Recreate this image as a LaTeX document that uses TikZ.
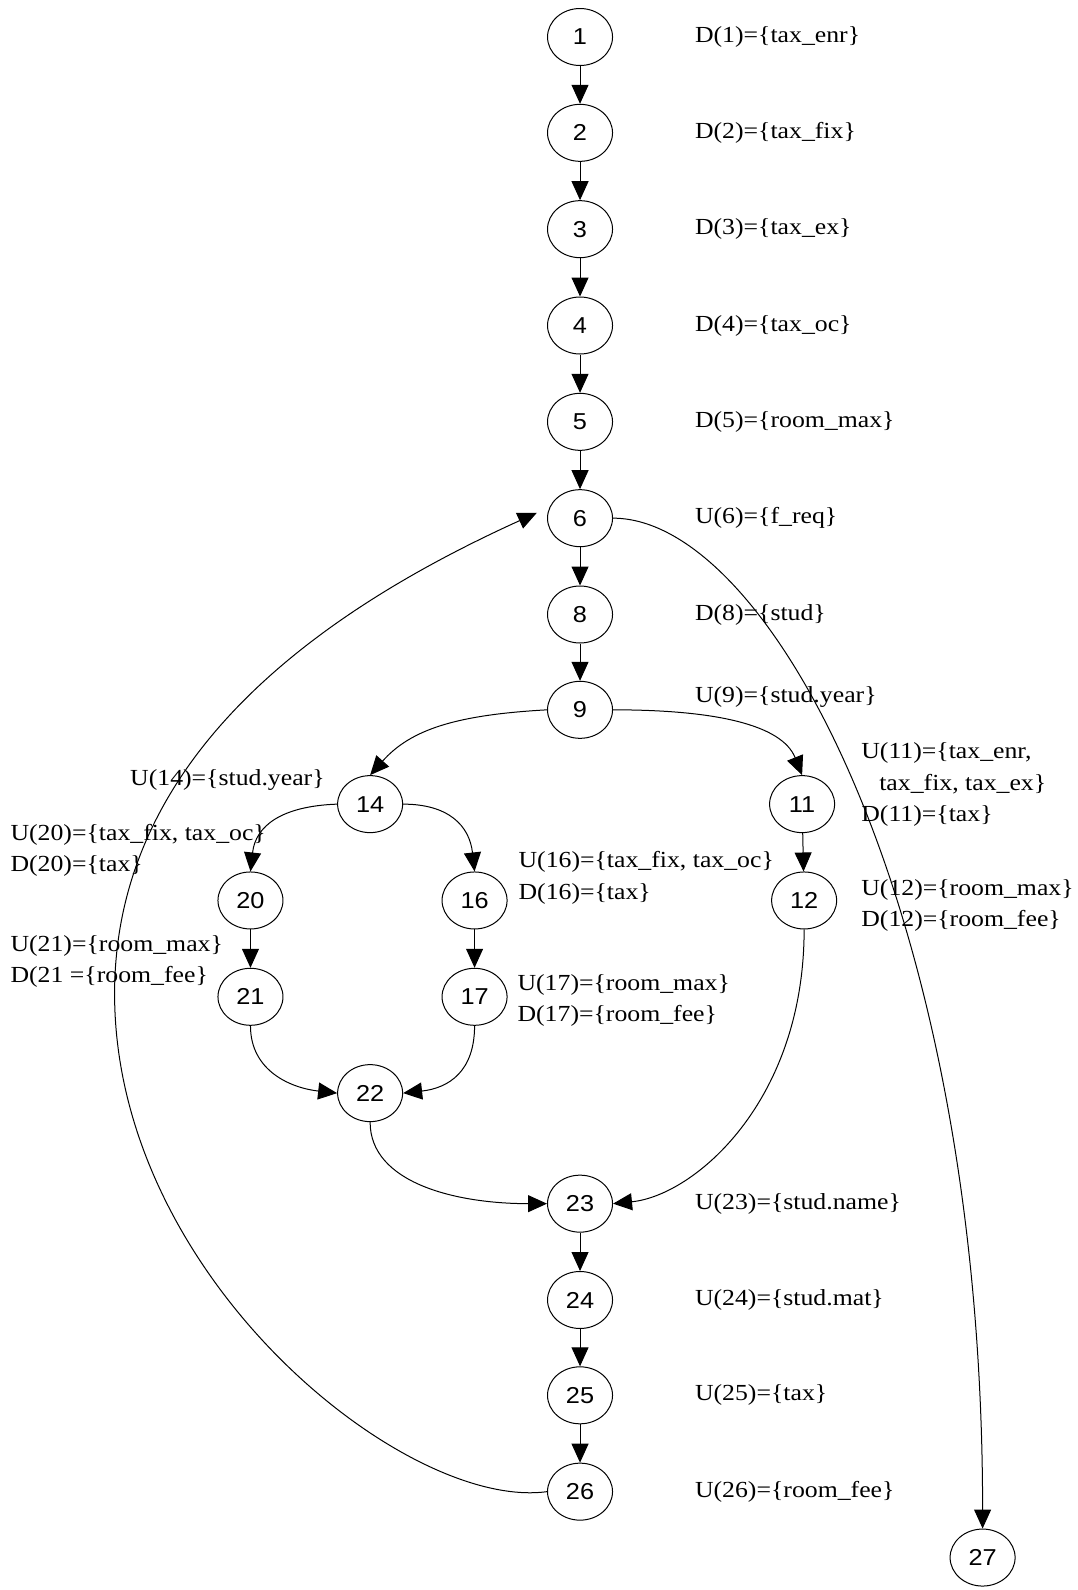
\documentclass[tikz,border=0pt]{standalone}
\usepackage{fontspec}
\setmainfont[FakeStretch=1.12]{Liberation Serif}
\newfontfamily\numfont[FakeStretch=1.1]{Liberation Sans}
\usetikzlibrary{arrows.meta,shapes.geometric}
\begin{document}
\begin{tikzpicture}[x=0.507pt,y=-0.507pt,
  nd/.style={ellipse,draw,line width=0.5pt,minimum width=32.5pt,minimum height=28.5pt,inner sep=0pt,font=\numfont\fontsize{11.5}{13}\selectfont},
  lbl/.style={anchor=west,inner sep=0pt,align=left,font=\fontsize{11.5}{15.7}\selectfont},
  edge/.style={line width=0.5pt,-{Triangle[length=9.5pt,width=8.5pt]}}]
\useasboundingbox (0,0) rectangle (1063,1568);
% nodes
\node[nd] (n1) at (572,36.5) {1};
\node[nd] (n2) at (572,131) {2};
\node[nd] (n3) at (572,226) {3};
\node[nd] (n4) at (572,321) {4};
\node[nd] (n5) at (572,416) {5};
\node[nd] (n6) at (572,511) {6};
\node[nd] (n8) at (572,606) {8};
\node[nd] (n9) at (572,700) {9};
\node[nd] (n14) at (365,793) {14};
\node[nd] (n11) at (791,793) {11};
\node[nd] (n20) at (247,888) {20};
\node[nd] (n16) at (468,888) {16};
\node[nd] (n12) at (793,888) {12};
\node[nd] (n21) at (247,983) {21};
\node[nd] (n17) at (468,983) {17};
\node[nd] (n22) at (365,1078) {22};
\node[nd] (n23) at (572,1187) {23};
\node[nd] (n24) at (572,1282) {24};
\node[nd] (n25) at (572,1376) {25};
\node[nd] (n26) at (572,1471) {26};
\node[nd] (n27) at (969,1536) {27};
\coordinate (loopL) at (113,980);
% labels
\node[lbl] (l1) at (685,36.5) {D(1)=\{tax\_enr\}};
\node[lbl] (l2) at (685,131) {D(2)=\{tax\_fix\}};
\node[lbl] (l3) at (685,226) {D(3)=\{tax\_ex\}};
\node[lbl] (l4) at (685,321) {D(4)=\{tax\_oc\}};
\node[lbl] (l5) at (685,416) {D(5)=\{room\_max\}};
\node[lbl] (l6) at (685,511) {U(6)=\{f\_req\}};
\node[lbl] (l8) at (685,606) {D(8)=\{stud\}};
\node[lbl] (l9) at (685,687) {U(9)=\{stud.year\}};
\node[lbl] (l14) at (128,769) {U(14)=\{stud.year\}};
\node[lbl] (l11) at (849,774) {U(11)=\{tax\_enr,\\\hspace*{9pt}tax\_fix, tax\_ex\}\\D(11)=\{tax\}};
\node[lbl] (l20) at (10,838.5) {U(20)=\{tax\_fix, tax\_oc\}\\D(20)=\{tax\}};
\node[lbl] (l16) at (511,865.5) {U(16)=\{tax\_fix, tax\_oc\}\\D(16)=\{tax\}};
\node[lbl] (l12) at (849,893) {U(12)=\{room\_max\}\\D(12)=\{room\_fee\}};
\node[lbl] (l21) at (10,948) {U(21)=\{room\_max\}\\D(21 =\{room\_fee\}};
\node[lbl] (l17) at (510,986.5) {U(17)=\{room\_max\}\\D(17)=\{room\_fee\}};
\node[lbl] (l23) at (685,1187) {U(23)=\{stud.name\}};
\node[lbl] (l24) at (685,1282) {U(24)=\{stud.mat\}};
\node[lbl] (l25) at (685,1376) {U(25)=\{tax\}};
\node[lbl] (l26) at (685,1471) {U(26)=\{room\_fee\}};
% straight edges
\draw[edge] (n1) -- (n2);
\draw[edge] (n2) -- (n3);
\draw[edge] (n3) -- (n4);
\draw[edge] (n4) -- (n5);
\draw[edge] (n5) -- (n6);
\draw[edge] (n6) -- (n8);
\draw[edge] (n8) -- (n9);
\draw[edge] (n11) -- (n12);
\draw[edge] (n20) -- (n21);
\draw[edge] (n16) -- (n17);
\draw[edge] (n23) -- (n24);
\draw[edge] (n24) -- (n25);
\draw[edge] (n25) -- (n26);
% curved edges
\draw[edge] (n9.west) .. controls +(-90,5) and +(40,-45) .. (n14.north);
\draw[edge] (n9.east) .. controls +(100,0) and +(-20,-50) .. (n11.north);
\draw[edge] (n14.west) .. controls +(-55,2) and +(5,-45) .. (n20.north);
\draw[edge] (n14.east) .. controls +(45,0) and +(-5,-45) .. (n16.north);
\draw[edge] (n21.south) .. controls +(0,45) and +(-45,-5) .. (n22.west);
\draw[edge] (n17.south) .. controls +(0,45) and +(45,-5) .. (n22.east);
\draw[edge] (n22.south) .. controls +(0,60) and +(-90,0) .. (n23.west);
\draw[edge] (n12.south) .. controls +(0,170) and +(80,-8) .. (n23.east);
\draw[edge] (n6.east) .. controls (760,511) and (969,900) .. (n27.north);
\draw[edge,shorten >=7pt] (n26.west) .. controls (400,1490) and (113,1260) .. (loopL) .. controls (113,740) and (326,598) .. (n6.160);
\end{tikzpicture}
\end{document}
